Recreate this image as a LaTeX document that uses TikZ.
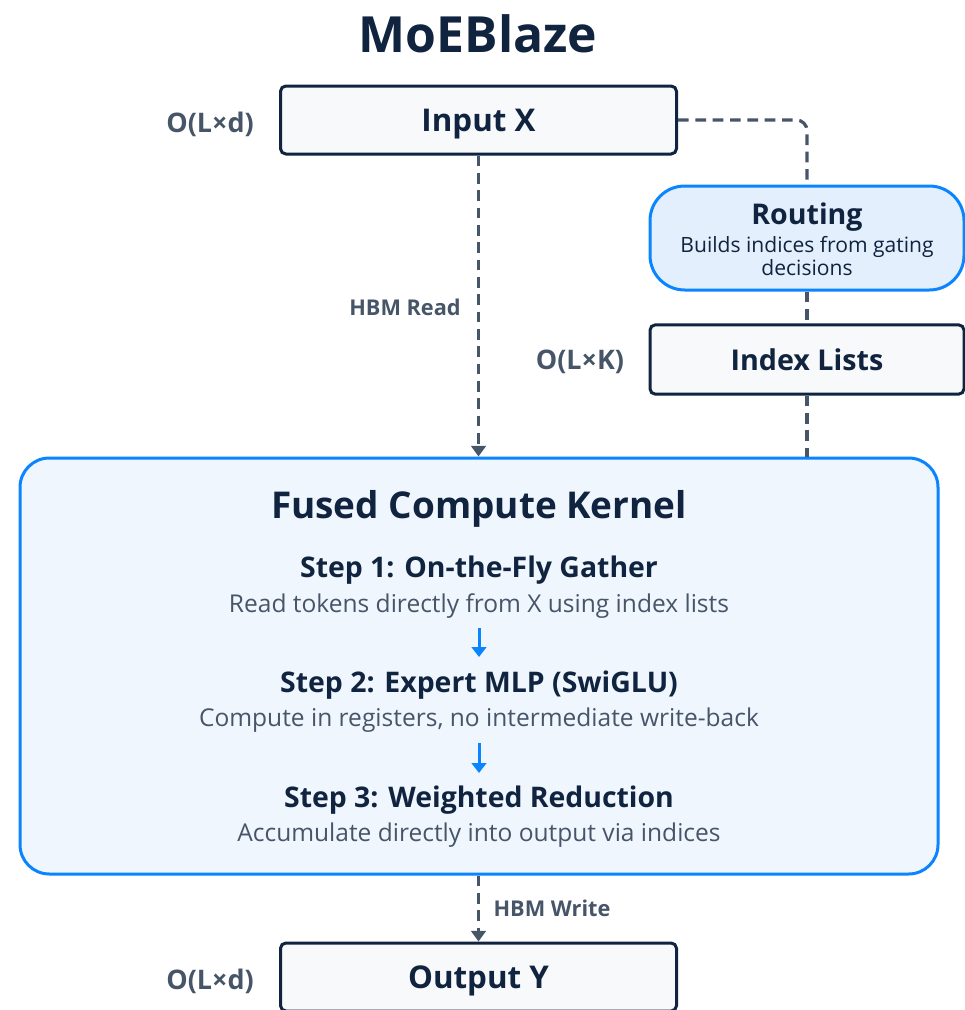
\documentclass[tikz,border=0pt]{standalone}
\usepackage{fontspec}
\setmainfont{Open Sans}
\usetikzlibrary{arrows.meta}
\definecolor{navy}{HTML}{10243F}
\definecolor{slate}{HTML}{475569}
\definecolor{accent}{HTML}{0A84FF}
\definecolor{boxfill}{HTML}{F7F9FB}
\definecolor{routefill}{HTML}{E3EFFC}
\definecolor{kernelfill}{HTML}{F0F6FE}
\tikzset{
  plainbox/.style={draw=navy, fill=boxfill, line width=2.25pt, rounded corners=4pt,
    minimum width=297pt, minimum height=51pt, inner sep=0pt, text=navy, text depth=0pt,
    font=\fontsize{23.5}{27}\selectfont\bfseries},
  sidebox/.style={plainbox, minimum width=235.5pt, minimum height=52pt,
    font=\fontsize{21.5}{25}\selectfont\bfseries},
  routebox/.style={draw=accent, fill=routefill, line width=2.25pt, rounded corners=26pt,
    minimum width=235.5pt, minimum height=78pt, inner sep=0pt},
  kernelbox/.style={draw=accent, fill=kernelfill, line width=2.25pt, rounded corners=22pt,
    minimum width=688.5pt, minimum height=312pt, inner sep=0pt},
  sizelabel/.style={text=slate, font=\fontsize{20.2}{23}\selectfont\bfseries, inner sep=0pt},
  linklabel/.style={text=slate, font=\fontsize{16.3}{19}\selectfont\bfseries, inner sep=0pt},
  steptitle/.style={text=navy, font=\fontsize{21.3}{25}\selectfont\bfseries, inner sep=0pt},
  stepdesc/.style={text=slate, font=\fontsize{18.4}{21}\selectfont, inner sep=0pt},
  conn/.style={draw=slate, line width=2.4pt, dash pattern=on 8pt off 5pt},
  tip/.style={-{Triangle[width=11pt,length=8pt]}},
  steparrow/.style={draw=accent, line width=2.25pt, -{Triangle[width=11pt,length=7.5pt]}}
}
\begin{document}
\begin{tikzpicture}[x=0.75pt,y=-0.75pt]
\useasboundingbox (0,0) rectangle (964,1010);
\node[text=navy, font=\fontsize{37.4}{44}\selectfont\bfseries, inner sep=0pt] (title) at (478,34) {MoEBlaze};

\node[plainbox] (inx) at (478.5,120) {Input X};
\node[sizelabel] (szin) at (210,124) {O(L×d)};

\node[routebox] (route) at (807,238) {};
\node[text=navy, font=\fontsize{21.4}{25}\selectfont\bfseries, inner sep=0pt] (routet) at (807,217) {Routing};
\node[text=navy, font=\fontsize{15.8}{17}\selectfont, align=center, inner sep=0pt] (routed) at (807,256) {Builds indices from gating\\decisions};

\node[sidebox] (idx) at (807,359.5) {Index Lists};
\node[sizelabel] (szidx) at (580,362) {O(L×K)};

\node[kernelbox] (kernel) at (479,666) {};
\node[text=navy, font=\fontsize{27.7}{32}\selectfont\bfseries, inner sep=0pt] (kt) at (479,509) {Fused Compute Kernel};

\node[steptitle] (s1) at (479,570) {Step 1: On-the-Fly Gather};
\node[stepdesc] (d1) at (479,606) {Read tokens directly from X using index lists};
\node[steptitle] (s2) at (479,685) {Step 2: Expert MLP (SwiGLU)};
\node[stepdesc] (d2) at (479,720) {Compute in registers, no intermediate write-back};
\node[steptitle] (s3) at (479,800) {Step 3: Weighted Reduction};
\node[stepdesc] (d3) at (479,835) {Accumulate directly into output via indices};

\coordinate (a1s) at (479,628);
\coordinate (a1e) at (479,657);
\coordinate (a2s) at (479,743);
\coordinate (a2e) at (479,773);
\draw[steparrow] (a1s) -- (a1e);
\draw[steparrow] (a2s) -- (a2e);

\node[plainbox] (outy) at (478.5,977) {Output Y};
\node[sizelabel] (szout) at (210,981) {O(L×d)};

% connectors
\draw[conn, tip] (inx.south) -- (inx.south |- kernel.north);
\node[linklabel] (hbmr) at (405,307) {HBM Read};
\draw[conn, rounded corners=8pt] (inx.east) -- (inx.east -| route.north) -- (route.north);
\draw[conn] (route.south) -- (idx.north);
\draw[conn] (idx.south) -- (idx.south |- kernel.north);
\draw[conn, tip] (outy.north |- kernel.south) -- (outy.north);
\node[linklabel] (hbmw) at (552,908) {HBM Write};
\end{tikzpicture}
\end{document}
